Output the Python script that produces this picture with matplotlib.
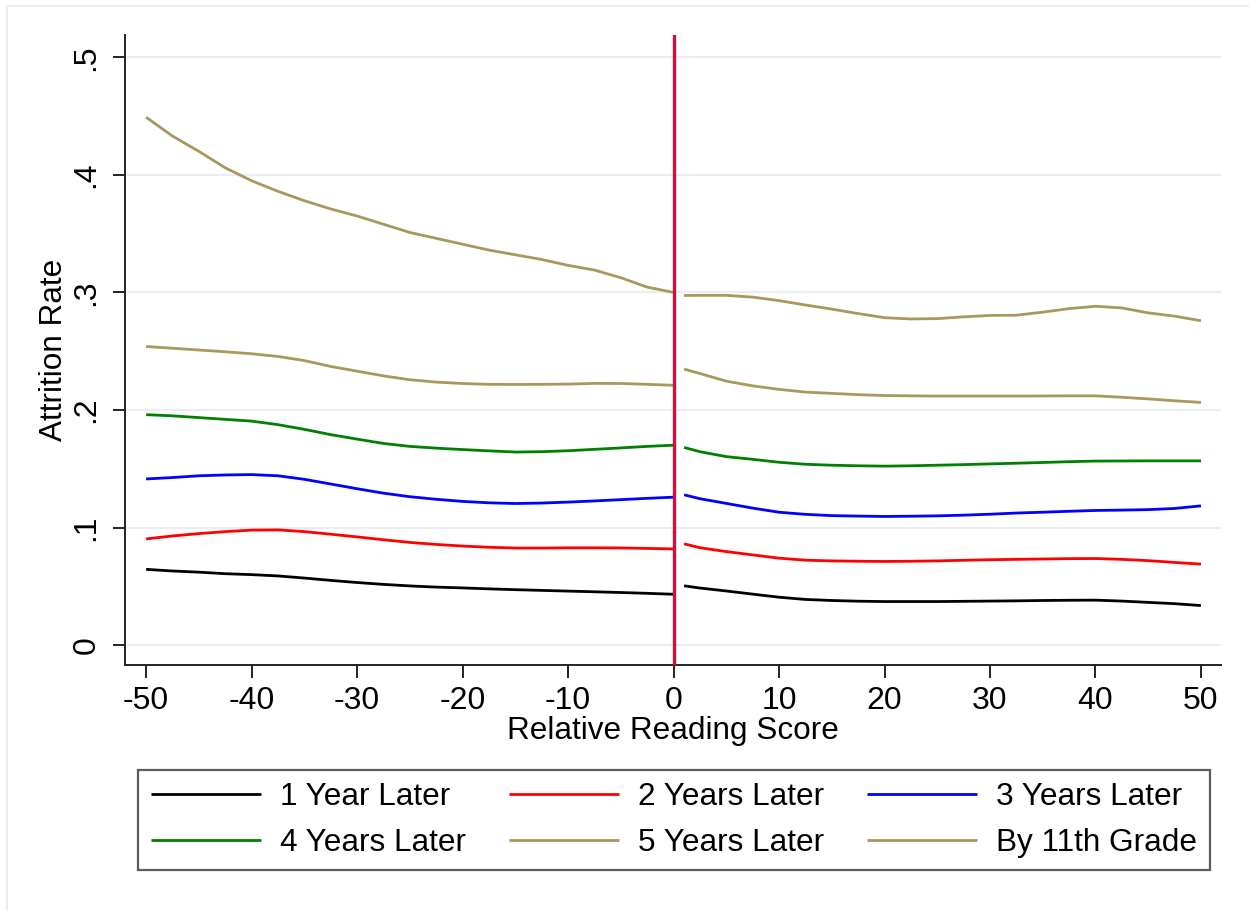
import matplotlib
matplotlib.use("Agg")
import matplotlib.pyplot as plt
from matplotlib.patches import Rectangle

plt.rcParams["font.family"] = ["Liberation Sans", "DejaVu Sans"]

# relative reading score grid on each side of the cutoff
x_left = [-50, -47.5, -45, -42.5, -40, -37.5, -35, -32.5, -30, -27.5, -25,
          -22.5, -20, -17.5, -15, -12.5, -10, -7.5, -5, -2.5, 0]
x_right = [1, 2.5, 5, 7.5, 10, 12.5, 15, 17.5, 20, 22.5, 25, 27.5, 30,
           32.5, 35, 37.5, 40, 42.5, 45, 47.5, 50]

labels = ["1 Year Later", "2 Years Later", "3 Years Later",
          "4 Years Later", "5 Years Later", "By 11th Grade"]
colors = ["#000000", "#ff0000", "#0000ff", "#008000", "#a8985c", "#a8985c"]

# attrition rates, below the cutoff
rate_left = [
    [.0644, .0630, .0620, .0607, .0599, .0588, .0570, .0550, .0532, .0516, .0503,
     .0493, .0486, .0478, .0471, .0465, .0459, .0453, .0447, .0440, .0432],
    [.0903, .0928, .0948, .0965, .0978, .0980, .0965, .0943, .0920, .0896, .0873,
     .0856, .0842, .0832, .0825, .0825, .0827, .0827, .0826, .0822, .0818],
    [.1413, .1425, .1440, .1447, .1450, .1440, .1410, .1370, .1330, .1292, .1262,
     .1240, .1222, .1210, .1204, .1208, .1216, .1226, .1237, .1248, .1258],
    [.1960, .1950, .1935, .1920, .1905, .1875, .1835, .1790, .1752, .1715, .1690,
     .1675, .1663, .1652, .1642, .1645, .1653, .1665, .1677, .1690, .1700],
    [.2540, .2525, .2510, .2495, .2478, .2455, .2420, .2370, .2330, .2290, .2257,
     .2237, .2225, .2218, .2217, .2218, .2220, .2226, .2225, .2218, .2210],
    [.4490, .4330, .4200, .4060, .3950, .3860, .3780, .3710, .3650, .3580, .3510,
     .3460, .3410, .3360, .3320, .3280, .3230, .3190, .3125, .3045, .3000],
]

# attrition rates, above the cutoff
rate_right = [
    [.0504, .0485, .0460, .0433, .0407, .0388, .0379, .0373, .0370, .0370, .0370,
     .0372, .0374, .0376, .0379, .0381, .0382, .0374, .0363, .0352, .0336],
    [.0861, .0828, .0795, .0767, .0739, .0722, .0716, .0713, .0711, .0713, .0716,
     .0721, .0726, .0729, .0732, .0735, .0736, .0729, .0718, .0703, .0688],
    [.1278, .1245, .1205, .1165, .1130, .1112, .1101, .1097, .1094, .1096, .1099,
     .1105, .1113, .1123, .1130, .1138, .1145, .1148, .1152, .1162, .1184],
    [.1681, .1645, .1603, .1580, .1555, .1538, .1530, .1525, .1522, .1525, .1530,
     .1535, .1541, .1547, .1553, .1560, .1565, .1566, .1567, .1567, .1567],
    [.2348, .2310, .2245, .2205, .2175, .2152, .2141, .2130, .2123, .2120, .2118,
     .2118, .2118, .2118, .2119, .2120, .2120, .2108, .2094, .2078, .2064],
    [.2974, .2975, .2975, .2960, .2930, .2893, .2858, .2820, .2785, .2774, .2777,
     .2792, .2804, .2806, .2832, .2862, .2882, .2868, .2826, .2798, .2759],
]

x_ticks = [-50, -40, -30, -20, -10, 0, 10, 20, 30, 40, 50]
y_ticks = [0, .1, .2, .3, .4, .5]
y_ticklabels = ["0", ".1", ".2", ".3", ".4", ".5"]

fig = plt.figure(figsize=(12.49, 9.11), dpi=100)
ax = fig.add_axes([0.1001, 0.270, 0.8775, 0.6916])

# light outer frame around the graph region
fig.patches.append(Rectangle((7 / 1249, -0.1), 1.2, 1.1 - 6 / 911,
                             transform=fig.transFigure, fill=False,
                             edgecolor="#e6edf5", linewidth=1.6))

for yt in y_ticks:
    ax.axhline(yt, color="#e9eef5", linewidth=1.6, zorder=0)

handles = []
for i, lab in enumerate(labels):
    h, = ax.plot(x_left, rate_left[i], color=colors[i], linewidth=2.0, label=lab,
                 solid_capstyle="butt", solid_joinstyle="round", zorder=3)
    ax.plot(x_right, rate_right[i], color=colors[i], linewidth=2.0,
            solid_capstyle="butt", solid_joinstyle="round", zorder=3)
    handles.append(h)

ax.axvline(0, color="#cc1040", linewidth=2.4, zorder=4)

ax.set_xlim(-52.0, 51.9)
ax.set_ylim(-0.017, 0.519)
ax.set_xticks(x_ticks)
ax.set_xticklabels([str(t) for t in x_ticks])
ax.set_yticks(y_ticks)
ax.set_yticklabels(y_ticklabels, rotation=90, va="center")

for s in ["top", "right"]:
    ax.spines[s].set_visible(False)
for s in ["left", "bottom"]:
    ax.spines[s].set_color("#222222")
    ax.spines[s].set_linewidth(1.4)

ax.tick_params(axis="both", labelsize=23, color="#222222", width=1.4,
               length=9, direction="out")
ax.tick_params(axis="x", pad=6)
ax.tick_params(axis="y", pad=8)

ax.set_xlabel("Relative Reading Score", fontsize=22.7, labelpad=0)
ax.set_ylabel("Attrition Rate", fontsize=22.7, labelpad=2)

# legend fills column by column, so order the entries to read across rows
order = [0, 3, 1, 4, 2, 5]
leg = ax.legend([handles[k] for k in order], [labels[k] for k in order],
                loc="center", bbox_to_anchor=(138 / 1249, 40 / 911, 1072 / 1249, 102 / 911),
                bbox_transform=fig.transFigure, mode="expand", ncol=3,
                fontsize=22.7, frameon=True, fancybox=False,
                handlelength=3.5, handletextpad=0.6, borderpad=0.4,
                labelspacing=0.5, borderaxespad=0)
leg.get_frame().set_edgecolor("#333333")
leg.get_frame().set_linewidth(1.6)

fig.savefig("out.png", dpi=100)
